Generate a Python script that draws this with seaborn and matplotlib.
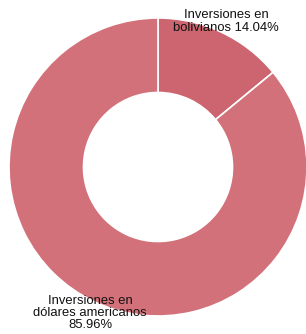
import matplotlib
matplotlib.use("Agg")
import matplotlib.pyplot as plt
import seaborn as sns

# ================================
# DATA
# ================================
labels = ["Inversiones en\nbolivianos 14.04%", "Inversiones en\ndólares americanos\n85.96%"]
shares = [14.04, 85.96]
colors = ["#cc6570", "#d3717a"]

sns.set_style("white")
plt.rcParams["font.family"] = ["Liberation Sans", "DejaVu Sans"]

# ================================
# DONUT CHART
# ================================
fig = plt.figure(figsize=(3.06, 3.34), dpi=100)
ax = fig.add_axes([9 / 306, 18 / 334, 298 / 306, 298 / 334])

ax.pie(shares, colors=colors, startangle=90, counterclock=False, radius=1,
       wedgeprops=dict(width=0.5, edgecolor="white", linewidth=1.2))
ax.set_xlim(-1, 1)
ax.set_ylim(-1, 1)
ax.set_aspect("equal")
ax.axis("off")

ax.text(0.456, 0.975, labels[0], ha="center", va="center", fontsize=9.4,
        color="#111111", linespacing=1.05, clip_on=False)
ax.text(-0.456, -0.98, labels[1], ha="center", va="center", fontsize=9.4,
        color="#111111", linespacing=1.05, clip_on=False)

plt.savefig("out.png", dpi=100)
